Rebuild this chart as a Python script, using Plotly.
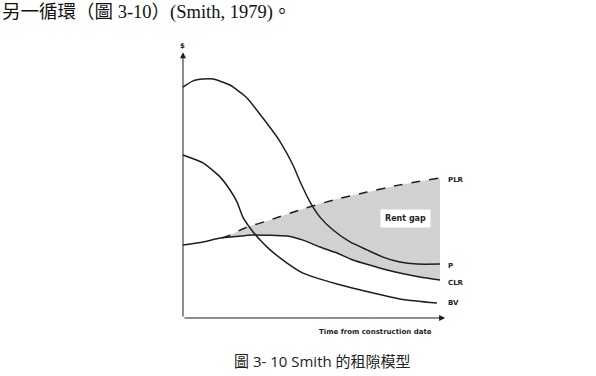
import plotly.graph_objects as go

# ---- data (time units 0-100, value units 0-100) ----
p_x = [0, 3.9, 7.8, 11.7, 18.3, 24.9, 31.1, 37.7, 42.8, 45.5, 49.4, 53.3, 58.4, 65.0, 71.6, 77.8, 84.4, 91.1, 100]
p_y = [89.5, 91.9, 92.6, 92.6, 90.3, 85.3, 77.5, 68.5, 59.3, 53.0, 45.0, 39.1, 34.1, 29.5, 26.4, 23.6, 21.7, 20.9, 20.9]

bv_x = [0, 7.8, 14.4, 18.3, 21.0, 23.3, 26.1, 30.0, 33.9, 40.5, 46.7, 59.9, 72.8, 85.6, 98.8]
bv_y = [63.2, 60.1, 54.7, 49.6, 45.0, 39.1, 34.9, 30.2, 26.4, 21.3, 17.4, 13.2, 10.0, 7.2, 5.8]

clr_x = [0, 7.8, 14.4, 20.5, 27.2, 40.5, 46.7, 53.3, 59.9, 66.1, 79.4, 92.2, 100]
clr_y = [28.3, 29.5, 31.0, 31.6, 32.2, 31.8, 30.2, 27.5, 25.2, 22.5, 18.6, 15.9, 14.7]

plr_x = [15.2, 17.5, 24.1, 33.9, 45.5, 58.4, 71.6, 84.4, 100]
plr_y = [31.0, 31.8, 34.9, 38.0, 41.9, 45.7, 48.8, 51.6, 54.3]

curve_labels = ["PLR", "P", "CLR", "BV"]
label_y = [53.5, 20.2, 13.6, 5.8]

top_text = "另一循環（圖 3-10）(Smith, 1979)。"
caption = "圖 3- 10 Smith 的租隙模型"
x_title = "Time from construction date"
y_title = "$"
gap_label = "Rent gap"

# ---- figure ----
ink = "#1e1e1e"
sm = 0.5
fig = go.Figure()

# shaded rent gap between CLR (from where PLR starts) and PLR
seg_x = [x for x in clr_x if x >= plr_x[0]]
seg_y = [y for x, y in zip(clr_x, clr_y) if x >= plr_x[0]]
fig.add_trace(go.Scatter(
    x=[plr_x[0]] + seg_x, y=[plr_y[0]] + seg_y, mode="lines",
    line=dict(width=0, shape="spline", smoothing=sm),
    hoverinfo="skip", showlegend=False))
fig.add_trace(go.Scatter(
    x=plr_x, y=plr_y, mode="lines", fill="tonexty",
    line=dict(width=0, shape="spline", smoothing=sm),
    fillcolor="#d6d6d6",
    fillpattern=dict(shape=".", size=2, solidity=0.35, fgcolor="#7a7a7a", bgcolor="#e4e4e4"),
    hoverinfo="skip", showlegend=False))

for xs, ys, dash in [(p_x, p_y, "solid"), (bv_x, bv_y, "solid"),
                     (clr_x, clr_y, "solid"), (plr_x, plr_y, "dash")]:
    fig.add_trace(go.Scatter(
        x=xs, y=ys, mode="lines",
        line=dict(color=ink, width=1.5, shape="spline", smoothing=sm, dash=dash),
        hoverinfo="skip", showlegend=False))

# axes with arrows
fig.add_annotation(x=0, y=103, ax=0, ay=0, xref="x", yref="y", axref="x", ayref="y",
                   text="", showarrow=True, arrowhead=2, arrowsize=1.2, arrowwidth=1, arrowcolor=ink)
fig.add_annotation(x=102, y=0, ax=0, ay=0, xref="x", yref="y", axref="x", ayref="y",
                   text="", showarrow=True, arrowhead=2, arrowsize=1.2, arrowwidth=1, arrowcolor=ink)
fig.add_annotation(x=0, y=105.5, xref="x", yref="y", text="<b>" + y_title + "</b>", showarrow=False,
                   font=dict(family="DejaVu Sans", size=7, color=ink))
fig.add_annotation(x=52, y=-5.4, xref="x", yref="y", xanchor="left", text="<b>" + x_title + "</b>",
                   showarrow=False, font=dict(family="DejaVu Sans", size=7, color=ink))

for t, yv in zip(curve_labels, label_y):
    fig.add_annotation(x=102.3, y=yv, xref="x", yref="y", xanchor="left", text="<b>" + t + "</b>",
                       showarrow=False, font=dict(family="DejaVu Sans", size=7, color=ink))

fig.add_annotation(x=86.4, y=38.4, xref="x", yref="y", text="<b>" + gap_label + "</b>", showarrow=False,
                   bgcolor="white", borderpad=4, font=dict(family="DejaVu Sans", size=8, color=ink))

fig.add_annotation(x=0, y=1 - 13 / 376, xref="paper", yref="paper", xanchor="left", yanchor="middle",
                   text=top_text, showarrow=False,
                   font=dict(family="Liberation Serif, Noto Sans CJK TC", size=18.5, color="#111"))
fig.add_annotation(x=322 / 596, y=1 - 361 / 376, xref="paper", yref="paper", xanchor="center", yanchor="middle",
                   text=caption, showarrow=False,
                   font=dict(family="Open Sans, Noto Sans CJK TC", size=15, color="#222"))

fig.update_layout(
    width=596, height=376, margin=dict(l=0, r=0, t=0, b=0),
    paper_bgcolor="white", plot_bgcolor="white",
    xaxis=dict(range=[-71.2, 160.7], visible=False, fixedrange=True),
    yaxis=dict(range=[-22.48, 123.26], visible=False, fixedrange=True),
)
fig.write_html("out.html")
